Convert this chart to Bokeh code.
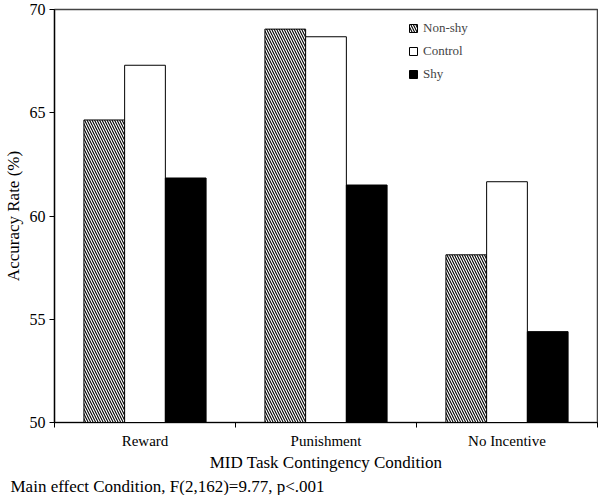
from bokeh.plotting import figure
from bokeh.models import (Range1d, FixedTicker, Legend, LegendItem, Title,
                          ColumnDataSource)
from bokeh.embed import file_html
from bokeh.resources import INLINE

categories = ["Reward", "Punishment", "No Incentive"]
nonshy = [64.65, 69.05, 58.12]
control = [67.3, 68.68, 61.66]
shy = [61.84, 61.5, 54.4]
y_ticks = [50, 55, 60, 65, 70]

FONT = "Liberation Serif"
n = len(categories)
centers = [i + 0.5 for i in range(n)]
bw = 0.225
FH = 413

p = figure(frame_width=543, frame_height=FH, output_backend="svg",
           toolbar_location=None,
           x_range=Range1d(0, n), y_range=Range1d(50, 70),
           min_border_left=44, min_border_right=1, min_border_top=9,
           min_border_bottom=0)
p.background_fill_color = "white"
p.border_fill_color = "white"
p.outline_line_color = "#444444"
p.outline_line_width = 1.5
p.xgrid.visible = False
p.ygrid.visible = False

def src(vals, off):
    return ColumnDataSource(dict(x=[c + off for c in centers], top=vals,
                                 bottom=[50] * n))

r1 = p.vbar(x="x", top="top", bottom="bottom", width=bw, source=src(nonshy, -bw),
            fill_color="white", line_color="black", line_width=1,
            hatch_pattern="\\", hatch_color="black", hatch_scale=5, hatch_weight=1.1)
r2 = p.vbar(x="x", top="top", bottom="bottom", width=bw, source=src(control, 0),
            fill_color="white", line_color="black", line_width=1)
r3 = p.vbar(x="x", top="top", bottom="bottom", width=bw, source=src(shy, bw),
            fill_color="black", line_color="black", line_width=1)

xa = p.xaxis[0]
xa.ticker = FixedTicker(ticks=centers, minor_ticks=list(range(n + 1)))
xa.major_label_overrides = {c: lab for c, lab in zip(centers, categories)}
xa.major_tick_line_color = None
xa.minor_tick_line_color = "black"
xa.minor_tick_out = 5
xa.minor_tick_in = 0
xa.axis_line_color = "black"
xa.axis_line_width = 1.2
xa.major_label_text_font = FONT
xa.major_label_text_font_size = "15px"
xa.major_label_text_color = "black"
xa.major_label_standoff = 4
xa.axis_label = "MID Task Contingency Condition"
xa.axis_label_text_font = FONT
xa.axis_label_text_font_size = "17px"
xa.axis_label_text_font_style = "normal"
xa.axis_label_text_color = "black"
xa.axis_label_standoff = 1

ya = p.yaxis[0]
ya.ticker = FixedTicker(ticks=y_ticks, minor_ticks=[])
ya.major_tick_out = 5
ya.major_tick_in = 0
ya.major_tick_line_color = "black"
ya.axis_line_color = "black"
ya.axis_line_width = 1.2
ya.major_label_text_font = FONT
ya.major_label_text_font_size = "16px"
ya.major_label_text_color = "black"
ya.major_label_standoff = 4
ya.axis_label = "Accuracy Rate (%)"
ya.axis_label_text_font = FONT
ya.axis_label_text_font_size = "17px"
ya.axis_label_text_font_style = "normal"
ya.axis_label_text_color = "black"
ya.axis_label_standoff = 4

legend = Legend(items=[LegendItem(label="Non-shy", renderers=[r1]),
                       LegendItem(label="Control", renderers=[r2]),
                       LegendItem(label="Shy", renderers=[r3])],
                location=(354, FH - 17 - 56), orientation="vertical",
                glyph_width=10, glyph_height=10, label_height=14,
                spacing=7, padding=0, margin=0,
                label_text_font=FONT, label_text_font_size="13px",
                label_standoff=5, border_line_color=None,
                background_fill_alpha=0)
p.add_layout(legend, "center")

foot = Title(text="Main effect Condition, F(2,162)=9.77, p<.001",
             text_font=FONT, text_font_size="17px", text_font_style="normal",
             text_color="black", align="left", offset=-44, standoff=0)
p.add_layout(foot, "below")

open("out.html", "w").write(file_html(p, INLINE))
